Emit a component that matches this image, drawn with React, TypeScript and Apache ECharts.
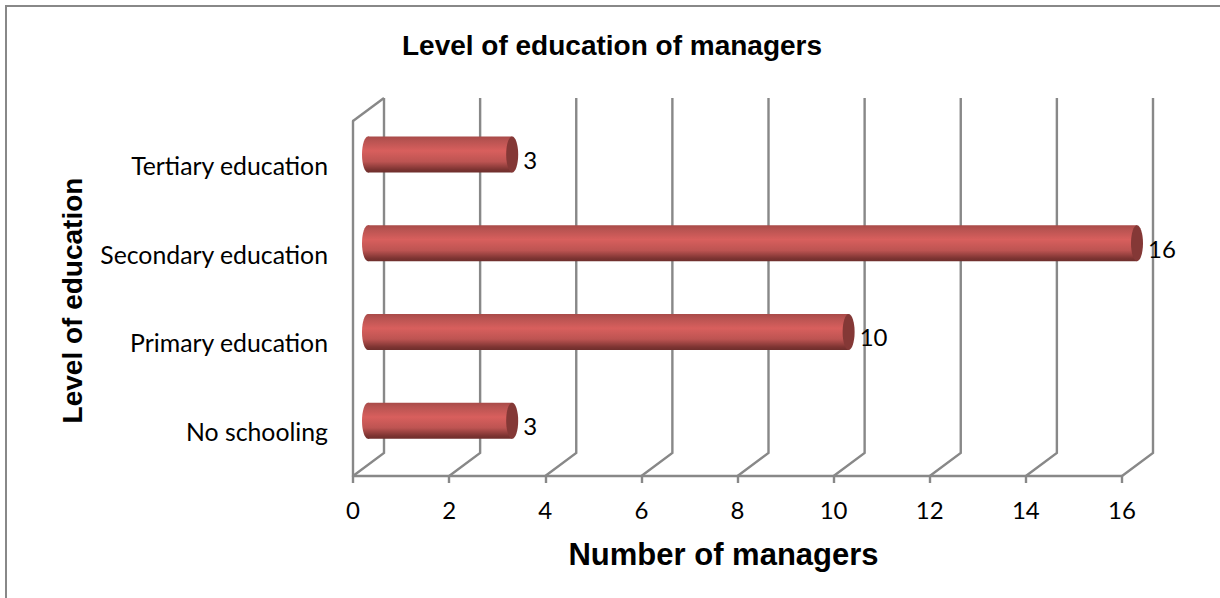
import React, { useEffect, useRef } from "react";
import * as echarts from "echarts";

const categories = ["No schooling", "Primary education", "Secondary education", "Tertiary education"];
const managers = [3, 10, 16, 3];
const wallTicks = [0, 2, 4, 6, 8, 10, 12, 14, 16];

const DEPTH_X = 31;
const DEPTH_Y = 23;
const GREY = "#888888";
const LINE = 2.4;

export default function App() {
  const ref = useRef<HTMLDivElement>(null);
  useEffect(() => {
    document.body.style.margin = "0";
    const chart = echarts.init(ref.current!, null, { renderer: "svg" });
    const barGradient = new echarts.graphic.LinearGradient(0, 0, 0, 1, [
      { offset: 0, color: "#a84a48" },
      { offset: 0.12, color: "#b85351" },
      { offset: 0.4, color: "#d85f5d" },
      { offset: 0.7, color: "#bd5452" },
      { offset: 0.92, color: "#7d3432" },
      { offset: 1, color: "#6e2e2c" },
    ]);
    chart.setOption({
      animation: false,
      backgroundColor: "#fff",
      title: {
        text: "Level of education of managers",
        left: 607,
        top: 26,
        textAlign: "center",
        textStyle: { fontFamily: "Liberation Sans", fontWeight: "bold", fontSize: 28, color: "#000" },
      },
      graphic: [
        {
          type: "polyline",
          silent: true,
          shape: { points: [[6, 598], [6, 6], [1220, 6]] },
          style: { stroke: GREY, lineWidth: 2, fill: "none" },
        },
      ],
      grid: { left: 353, right: 98, top: 121, bottom: 122 },
      xAxis: {
        type: "value",
        min: 0,
        max: 16,
        interval: 2,
        name: "Number of managers",
        nameLocation: "middle",
        nameGap: 63,
        nameTextStyle: { fontFamily: "Liberation Sans", fontWeight: "bold", fontSize: 31, color: "#000", padding: [0, 28, 0, 0] },
        axisLine: { show: true, lineStyle: { color: GREY, width: LINE } },
        axisTick: { show: true, length: 7, lineStyle: { color: GREY, width: LINE } },
        axisLabel: { fontFamily: "Lato", fontSize: 24, color: "#000", margin: 21 },
        splitLine: { show: false },
      },
      yAxis: {
        type: "category",
        data: categories,
        name: "Level of education",
        nameLocation: "middle",
        nameGap: 267,
        nameTextStyle: { fontFamily: "Liberation Sans", fontWeight: "bold", fontSize: 28, color: "#000", padding: [0, 4, 0, 0] },
        axisLine: { show: true, lineStyle: { color: GREY, width: LINE } },
        axisTick: { show: false },
        axisLabel: { fontFamily: "Lato", fontSize: 24.8, color: "#000", margin: 25, formatter: (v: string) => v + "{o|}", rich: { o: { padding: [22, 0, 0, 0] } } },
        splitLine: { show: false },
      },
      series: [
        {
          type: "custom",
          silent: true,
          clip: false,
          z: 1,
          data: wallTicks.map((t) => [t]),
          renderItem: (params: any, api: any) => {
            const [x] = api.coord([api.value(0), categories[0]]);
            const rect = params.coordSys;
            const front = rect.y + rect.height;
            const back = front - DEPTH_Y;
            const top = rect.y - DEPTH_Y;
            const pts = [[x, front], [x + DEPTH_X, back], [x + DEPTH_X, top]];
            const children: any[] = [
              { type: "polyline", shape: { points: pts }, style: { stroke: GREY, lineWidth: LINE, fill: "none" } },
            ];
            if (api.value(0) === 0) {
              children.push({
                type: "line",
                shape: { x1: x, y1: rect.y, x2: x + DEPTH_X, y2: top },
                style: { stroke: GREY, lineWidth: LINE },
              });
            }
            return { type: "group", children };
          },
          encode: { x: 0 },
        },
        {
          type: "custom",
          silent: true,
          clip: false,
          z: 2,
          data: managers.map((v, i) => [v, categories[i]]),
          renderItem: (params: any, api: any) => {
            const shiftX = 15;
            const shiftY = -11;
            const [x1, y] = api.coord([api.value(0), categories[params.dataIndex]]);
            const [x0] = api.coord([0, categories[params.dataIndex]]);
            const h = 36;
            const rx = 6;
            const cy = y + shiftY;
            const left = x0 + shiftX;
            const right = x1 + shiftX;
            return {
              type: "group",
              children: [
                { type: "ellipse", shape: { cx: left, cy, rx, ry: h / 2 }, style: { fill: barGradient } },
                { type: "rect", shape: { x: left, y: cy - h / 2, width: right - left, height: h }, style: { fill: barGradient } },
                { type: "ellipse", shape: { cx: right, cy, rx, ry: h / 2 }, style: { fill: "#843836" } },
                {
                  type: "text",
                  style: {
                    text: String(api.value(0)),
                    x: right + rx + 5,
                    y: cy + 5,
                    verticalAlign: "middle",
                    fontFamily: "Lato",
                    fontSize: 24,
                    fill: "#000",
                  },
                },
              ],
            };
          },
          encode: { x: 0, y: 1 },
        },
      ],
    });
    return () => chart.dispose();
  }, []);
  return <div ref={ref} style={{ width: 1220, height: 598 }} />;
}
